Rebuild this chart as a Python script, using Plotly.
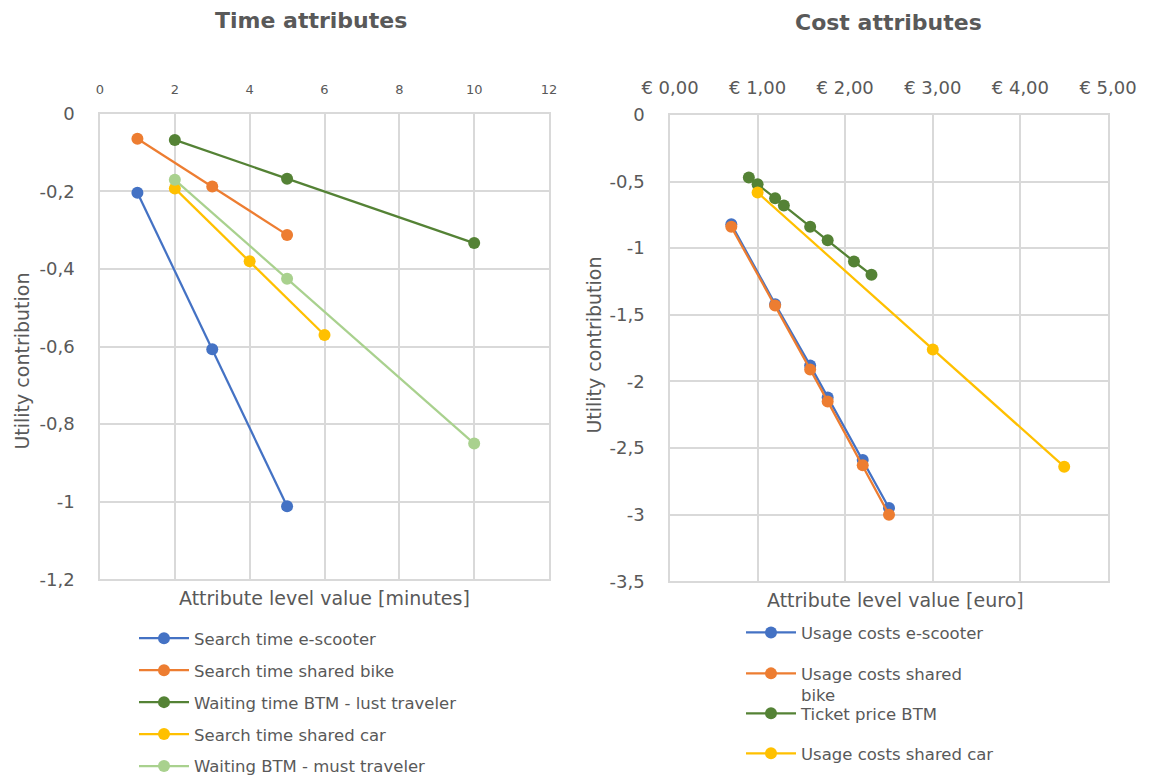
import plotly.graph_objects as go

# ---------------- data ----------------
# Time attributes (minutes)
escooter_search_x = [1, 3, 5]
escooter_search_y = [-0.203, -0.607, -1.012]
bike_search_x = [1, 3, 5]
bike_search_y = [-0.064, -0.187, -0.312]
btm_lust_x = [2, 5, 10]
btm_lust_y = [-0.067, -0.167, -0.333]
car_search_x = [2, 4, 6]
car_search_y = [-0.192, -0.380, -0.570]
btm_must_x = [2, 5, 10]
btm_must_y = [-0.170, -0.425, -0.850]

# Cost attributes (euro)
escooter_cost_x = [0.7, 1.2, 1.6, 1.8, 2.2, 2.5]
escooter_cost_y = [-0.82, -1.42, -1.88, -2.12, -2.59, -2.95]
bike_cost_x = [0.7, 1.2, 1.6, 1.8, 2.2, 2.5]
bike_cost_y = [-0.84, -1.43, -1.91, -2.15, -2.63, -3.00]
ticket_x = [0.9, 1.0, 1.2, 1.3, 1.6, 1.8, 2.1, 2.3]
ticket_y = [-0.47, -0.52, -0.625, -0.68, -0.84, -0.94, -1.10, -1.20]
car_cost_x = [1.0, 3.0, 4.5]
car_cost_y = [-0.583, -1.76, -2.64]

time_xticks = [0, 2, 4, 6, 8, 10, 12]
time_yticks = [0, -0.2, -0.4, -0.6, -0.8, -1, -1.2]
time_ytext = ["0", "-0,2", "-0,4", "-0,6", "-0,8", "-1", "-1,2"]
cost_xticks = [0, 1, 2, 3, 4, 5]
cost_xtext = ["€ 0,00", "€ 1,00", "€ 2,00", "€ 3,00", "€ 4,00", "€ 5,00"]
cost_yticks = [0, -0.5, -1, -1.5, -2, -2.5, -3, -3.5]
cost_ytext = ["0", "-0,5", "-1", "-1,5", "-2", "-2,5", "-3", "-3,5"]

# ---------------- styling ----------------
BLUE = "#4472C4"
ORANGE = "#ED7D31"
DGREEN = "#548235"
YELLOW = "#FFC000"
LGREEN = "#A9D18E"
TXT = "#595959"
GRID = "#D9D9D9"
FONT = "DejaVu Sans"

W, H = 1150, 776
OFF = 8          # page body margin
SY = 0.98728     # vertical scale observed in the captured page


def px_x(p):
    return (p - OFF) / W


def px_y(p):
    return 1 - (p / SY - OFF) / H


fig = go.Figure()


def add(x, y, name, color, xa, ya, legend, group):
    fig.add_trace(go.Scatter(
        x=x, y=y, name=name, mode="lines+markers",
        line=dict(color=color, width=2.25),
        marker=dict(color=color, size=12),
        xaxis=xa, yaxis=ya, legend=legend, legendgroup=group,
    ))


add(escooter_search_x, escooter_search_y, "Search time e-scooter", BLUE, "x", "y", "legend", "a1")
add(bike_search_x, bike_search_y, "Search time shared bike", ORANGE, "x", "y", "legend", "a2")
add(btm_lust_x, btm_lust_y, "Waiting time BTM - lust traveler", DGREEN, "x", "y", "legend", "a3")
add(car_search_x, car_search_y, "Search time shared car", YELLOW, "x", "y", "legend", "a4")
add(btm_must_x, btm_must_y, "Waiting BTM - must traveler", LGREEN, "x", "y", "legend", "a5")

add(escooter_cost_x, escooter_cost_y, "Usage costs e-scooter", BLUE, "x2", "y2", "legend2", "b1")
add(bike_cost_x, bike_cost_y, "Usage costs shared<br>bike", ORANGE, "x2", "y2", "legend3", "b2")
add(ticket_x, ticket_y, "Ticket price BTM", DGREEN, "x2", "y2", "legend4", "b3")
add(car_cost_x, car_cost_y, "Usage costs shared car", YELLOW, "x2", "y2", "legend5", "b4")

common_axis = dict(showgrid=True, gridcolor=GRID, gridwidth=1.5, zeroline=False,
                   showline=True, linecolor=GRID, linewidth=1.5, mirror=True,
                   ticks="outside", tickcolor="rgba(0,0,0,0)", fixedrange=True,
                   automargin=False)

LEG_FONT = dict(size=16.5, color=TXT, family=FONT)


def single_legend(xp, yp):
    return dict(x=px_x(xp), y=px_y(yp), xanchor="left", yanchor="top",
                font=LEG_FONT, itemwidth=50, valign="top",
                bgcolor="rgba(0,0,0,0)")


fig.update_layout(
    width=W, height=H,
    margin=dict(l=0, r=0, t=0, b=0),
    paper_bgcolor="white", plot_bgcolor="white",
    font=dict(family=FONT, color=TXT),
    showlegend=True,
    xaxis=dict(domain=[px_x(100), px_x(549)], anchor="y", side="top",
               range=[0, 12], tickvals=time_xticks,
               tickfont=dict(size=13, color=TXT), ticklen=13, **common_axis),
    yaxis=dict(domain=[px_y(580), px_y(114)], anchor="x",
               range=[-1.2, 0], tickvals=time_yticks, ticktext=time_ytext,
               tickfont=dict(size=18, color=TXT), ticklen=20, **common_axis),
    xaxis2=dict(domain=[px_x(670), px_x(1108)], anchor="y2", side="top",
                range=[0, 5], tickvals=cost_xticks, ticktext=cost_xtext,
                tickfont=dict(size=18, color=TXT), ticklen=12, **common_axis),
    yaxis2=dict(domain=[px_y(582), px_y(115)], anchor="x2",
                range=[-3.5, 0], tickvals=cost_yticks, ticktext=cost_ytext,
                tickfont=dict(size=18, color=TXT), ticklen=20, **common_axis),
    legend=dict(x=px_x(134), y=px_y(622), xanchor="left", yanchor="top",
                font=LEG_FONT, traceorder="grouped", tracegroupgap=7.5,
                itemwidth=50, bgcolor="rgba(0,0,0,0)"),
    legend2=single_legend(741, 616),
    legend3=single_legend(741, 657),
    legend4=single_legend(741, 697),
    legend5=single_legend(741, 737),
)

annotations = [
    dict(text="<b>Time attributes</b>", x=px_x(311), y=px_y(20), font=dict(size=22, color=TXT)),
    dict(text="<b>Cost attributes</b>", x=px_x(888), y=px_y(22), font=dict(size=22, color=TXT)),
    dict(text="Attribute level value [minutes]", x=px_x(324), y=px_y(599), font=dict(size=19, color=TXT)),
    dict(text="Attribute level value [euro]", x=px_x(895), y=px_y(601), font=dict(size=19, color=TXT)),
    dict(text="Utility contribution", x=px_x(22), y=px_y(362), textangle=-90, font=dict(size=19, color=TXT)),
    dict(text="Utility contribution", x=px_x(594), y=px_y(346), textangle=-90, font=dict(size=19, color=TXT)),
]
for a in annotations:
    a.update(xref="paper", yref="paper", showarrow=False, xanchor="center", yanchor="middle")
fig.update_layout(annotations=annotations)

fig.write_html("out.html")
